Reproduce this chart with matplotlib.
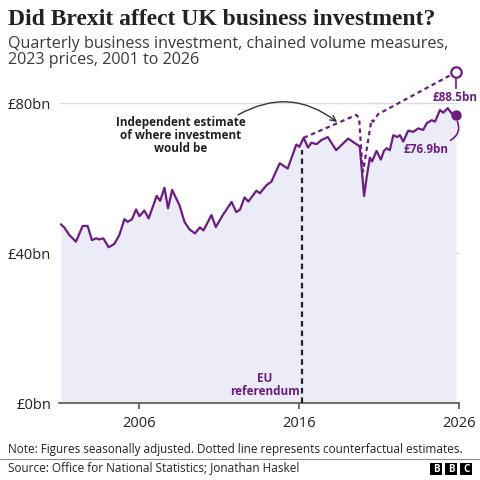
import matplotlib.pyplot as plt
from matplotlib.patches import Rectangle

# quarterly business investment, £bn
years = [2001.09, 2001.30, 2001.61, 2002.03, 2002.45, 2002.76, 2003.03, 2003.29,
         2003.49, 2003.74, 2004.08, 2004.43, 2004.75, 2005.06, 2005.27, 2005.54,
         2005.79, 2006.00, 2006.31, 2006.58, 2007.08, 2007.30, 2007.57, 2007.79,
         2008.05, 2008.51, 2008.82, 2009.13, 2009.48, 2009.78, 2010.01, 2010.51,
         2010.78, 2011.22, 2011.77, 2012.06, 2012.29, 2012.58, 2012.82, 2013.32,
         2013.54, 2013.96, 2014.26, 2014.78, 2015.28, 2015.82, 2016.01, 2016.28,
         2016.55, 2016.77, 2017.08, 2017.39, 2017.79, 2018.31, 2018.75, 2019.06,
         2019.79, 2020.06, 2020.23, 2020.42, 2020.56, 2020.84, 2021.11, 2021.30,
         2021.47, 2021.67, 2021.89, 2022.13, 2022.30, 2022.51, 2022.82, 2023.14,
         2023.45, 2023.76, 2023.98, 2024.29, 2024.50, 2024.81, 2025.02, 2025.29,
         2025.54, 2025.81]
invest = [47.7, 46.9, 44.9, 43.1, 47.3, 47.3, 43.5, 44.0,
          43.7, 44.0, 41.6, 42.5, 44.9, 49.1, 48.4, 49.1,
          51.7, 49.9, 51.4, 49.3, 55.3, 54.0, 57.5, 52.0,
          56.9, 52.8, 48.4, 46.4, 45.3, 46.9, 46.1, 50.2,
          47.0, 50.2, 53.7, 51.0, 51.6, 54.9, 53.8, 56.7,
          56.0, 58.2, 59.1, 64.0, 62.6, 69.0, 68.4, 70.8,
          68.2, 69.5, 69.1, 70.2, 71.0, 67.5, 69.3, 70.6,
          68.5, 55.3, 60.5, 65.5, 64.5, 67.3, 65.0, 67.3,
          68.0, 67.5, 71.5, 71.0, 71.5, 69.8, 72.7, 72.4,
          73.3, 72.9, 74.7, 75.5, 75.1, 78.2, 77.5, 78.7,
          77.3, 76.9]

# counterfactual estimate (dotted)
cf_years = [2016.28, 2019.58, 2019.75, 2019.96, 2020.00, 2020.42, 2020.52,
            2020.62, 2020.94, 2025.81]
cf_invest = [70.8, 76.9, 76.0, 62.5, 61.8, 72.9, 75.6, 75.1, 77.1, 88.3]

xticks = [2006, 2016, 2026]
yticks = [0, 40, 80]
ylabels = ['£0bn', '£40bn', '£80bn']

purple = '#6b1d80'
dark = '#222222'
sans = ['Open Sans', 'DejaVu Sans']

plt.rcParams['font.family'] = sans

fig = plt.figure(figsize=(4.8, 4.8), dpi=100)
fig.patch.set_facecolor('white')


def fx(x):
    return x / 480


def fy(y):
    return 1 - y / 480


ax = fig.add_axes([fx(59.5), fy(403.3), 399.5 / 480, 337.5 / 480])
ax.set_xlim(2001, 2026)
ax.set_ylim(0, 90)

ax.fill_between(years, invest, 0, color='#ecebf8', lw=0, zorder=1)
ax.plot(years, invest, color=purple, lw=1.6, zorder=4)
ax.plot(cf_years, cf_invest, color=purple, lw=1.6, ls=(0, (2, 1.6)), zorder=4)
ax.plot(years[-1], invest[-1], 'o', color=purple, ms=6.5, zorder=5, clip_on=False)
ax.plot(cf_years[-1], cf_invest[-1], 'o', mfc='white', mec=purple, mew=1.6,
        ms=7.5, zorder=5, clip_on=False)

# EU referendum line
ax.plot([2016.15, 2016.15], [0, 67.5], color=dark, lw=1.6, ls=(0, (2.5, 1.8)), zorder=3)
ax.text(2013.85, 2.2, 'EU\nreferendum', color=purple, fontsize=8.5,
        fontweight='bold', ha='center', va='baseline', linespacing=1.0)

ax.set_yticks(yticks)
ax.set_yticklabels(ylabels)
ax.set_xticks(xticks)
for s in ['top', 'right', 'left']:
    ax.spines[s].set_visible(False)
ax.spines['bottom'].set_color('#555555')
ax.spines['bottom'].set_linewidth(1.2)
ax.tick_params(axis='y', length=0, pad=6, labelsize=10.5, labelcolor=dark)
ax.tick_params(axis='x', length=4.5, width=1.2, color='#555555', pad=5,
               labelsize=10.5, labelcolor=dark)
ax.yaxis.grid(True, color='#dddddd', lw=1, zorder=0)
ax.set_axisbelow(True)
ax.set_facecolor('none')

# value labels
fig.text(fx(455), fy(101), '£88.5bn', color=purple, fontsize=8.5,
         fontweight='bold', ha='center', va='baseline')
ax.plot([cf_years[-1], cf_years[-1]], [86.8, 84.0], color=purple, lw=1.2, clip_on=False)
fig.text(fx(426.5), fy(153), '£76.9bn', color=purple, fontsize=8.5,
         fontweight='bold', ha='center', va='baseline')
ax.annotate('', xy=(2025.32, 69.8), xytext=(years[-1] + 0.02, invest[-1] - 1.0),
            arrowprops=dict(arrowstyle='-', color=purple, lw=1.2,
                            connectionstyle='arc3,rad=-0.5'))

fig.text(fx(181), fy(116), 'Independent estimate\nof where investment\nwould be',
         color=dark, fontsize=8.5, fontweight='bold', ha='center', va='top',
         linespacing=1.0)
ax.annotate('', xy=(2018.37, 75.0), xytext=(2012.17, 76.9),
            arrowprops=dict(arrowstyle='->', color='#333333', lw=1.0,
                            connectionstyle='arc3,rad=-0.33',
                            shrinkA=0, shrinkB=0))

# titles
fig.text(fx(8), fy(25), 'Did Brexit affect UK business investment?',
         family=['Liberation Serif', 'DejaVu Serif'], fontweight='bold',
         fontsize=17.0, color=dark, va='baseline')
fig.text(fx(8), fy(48.5), 'Quarterly business investment, chained volume measures,',
         fontsize=11.6, color='#3a3a3a', va='baseline')
fig.text(fx(8), fy(64.5), '2023 prices, 2001 to 2026',
         fontsize=11.6, color='#3a3a3a', va='baseline')

# footer
fig.text(fx(8), fy(452.5),
         'Note: Figures seasonally adjusted. Dotted line represents counterfactual estimates.',
         fontsize=8.5, color=dark, va='baseline')
fig.add_artist(plt.Line2D([0, 1], [fy(459), fy(459)], color='#888888', lw=0.8))
fig.text(fx(8), fy(471.5), 'Source: Office for National Statistics; Jonathan Haskel',
         fontsize=8.5, color=dark, va='baseline')
for i, letter in enumerate('BBC'):
    x0 = 430 + i * 15
    fig.add_artist(Rectangle((fx(x0), fy(475)), 12 / 480, 12 / 480,
                             color='black', lw=0))
    fig.text(fx(x0 + 6), fy(469), letter, color='white', fontsize=7,
             fontweight='bold', ha='center', va='center')

fig.savefig('out.png', dpi=100)
